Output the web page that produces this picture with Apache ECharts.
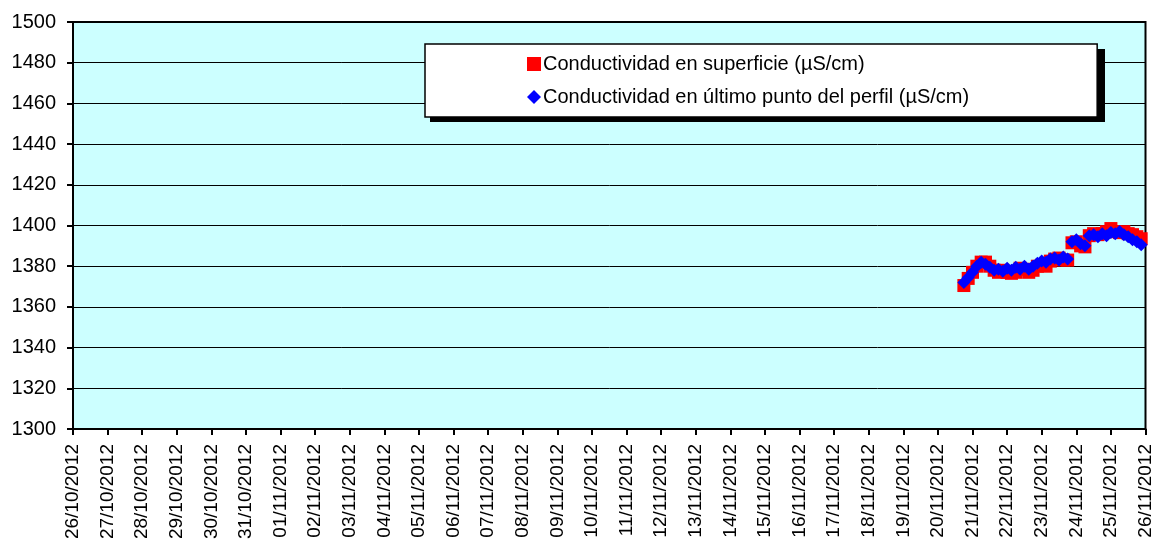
<!DOCTYPE html>
<html>
<head>
<meta charset="utf-8">
<script src="https://cdn.jsdelivr.net/npm/echarts@6/dist/echarts.min.js"></script>
<style>
  html, body { margin: 0; padding: 0; background: #fff; }
  #chart { width: 1155px; height: 551px; }
</style>
</head>
<body>
<div id="chart"></div>
<script>
// measurement times (every 3 h)
const times = [
  '2012-11-20 18:00', '2012-11-20 21:00',
  '2012-11-21 00:00', '2012-11-21 03:00', '2012-11-21 06:00', '2012-11-21 09:00',
  '2012-11-21 12:00', '2012-11-21 15:00', '2012-11-21 18:00', '2012-11-21 21:00',
  '2012-11-22 00:00', '2012-11-22 03:00', '2012-11-22 06:00', '2012-11-22 09:00',
  '2012-11-22 12:00', '2012-11-22 15:00', '2012-11-22 18:00', '2012-11-22 21:00',
  '2012-11-23 00:00', '2012-11-23 03:00', '2012-11-23 06:00', '2012-11-23 09:00',
  '2012-11-23 12:00', '2012-11-23 15:00', '2012-11-23 18:00', '2012-11-23 21:00',
  '2012-11-24 00:00', '2012-11-24 03:00', '2012-11-24 06:00', '2012-11-24 09:00',
  '2012-11-24 12:00', '2012-11-24 15:00', '2012-11-24 18:00', '2012-11-24 21:00',
  '2012-11-25 00:00', '2012-11-25 03:00', '2012-11-25 06:00', '2012-11-25 09:00',
  '2012-11-25 12:00', '2012-11-25 15:00', '2012-11-25 18:00', '2012-11-25 21:00'
]

const superficie = [
  1370.5, 1374, 1377, 1380, 1382, 1382, 1380, 1378, 1377, 1378,
  1377, 1376.5, 1377, 1379, 1378.5, 1377, 1378, 1380, 1380.5, 1380,
  1382.5, 1383.5, 1384, 1383, 1383, 1391.5, 1392, 1390, 1389.5, 1395,
  1396, 1395.5, 1396, 1397, 1398.5, 1397, 1396.5, 1397, 1396, 1395.5,
  1394.5, 1393.5
]

const ultimoPunto = [
  1372, 1374.5, 1377, 1380, 1382, 1381, 1379.5, 1378, 1378.5, 1377.5,
  1379, 1378, 1379.5, 1378.5, 1380, 1378.5, 1380, 1381.5, 1382.5, 1382,
  1383.5, 1384, 1383, 1384.5, 1383.5, 1392, 1393, 1391, 1390, 1395,
  1395.5, 1394.5, 1396, 1395, 1396.5, 1396, 1397, 1395.5, 1394.5, 1393,
  1392, 1390.5
]

const seriesNames = [
  'Conductividad en superficie (µS/cm)',
  'Conductividad en último punto del perfil (µS/cm)'
]

const xStart = '2012-10-26'
const xEnd = '2012-11-26'
const DAY = 86400000

function toUTC(s) {
  const [d, t] = s.split(' ')
  const [y, m, dd] = d.split('-').map(Number)
  const [hh, mm] = (t || '00:00').split(':').map(Number)
  return Date.UTC(y, m - 1, dd, hh, mm)
}

function pad(n) { return n < 10 ? '0' + n : '' + n }

const chart = echarts.init(document.getElementById('chart'))

const option = {
  animation: false,
  textStyle: { fontFamily: 'Liberation Sans, Arial, sans-serif' },
  grid: {
    left: 73,
    right: 8,
    top: 22,
    bottom: 122,
    show: true,
    backgroundColor: '#CCFFFF',
    borderColor: '#000',
    borderWidth: 2
  },
  // drop shadow behind the legend box
  graphic: [
    {
      type: 'rect',
      z: 1,
      silent: true,
      shape: { x: 430, y: 49, width: 675, height: 73 },
      style: { fill: '#000' }
    }
  ],
  legend: {
    orient: 'vertical',
    left: 425,
    top: 44,
    z: 3,
    align: 'left',
    itemWidth: 14,
    itemHeight: 14,
    itemGap: 13,
    padding: [10, 128, 10, 102],
    backgroundColor: '#fff',
    borderColor: '#000',
    borderWidth: 1.5,
    textStyle: { fontSize: 20, lineHeight: 20, color: '#000', padding: [0, 0, 0, -3] },
    data: [
      { name: seriesNames[0], icon: 'rect' },
      { name: seriesNames[1], icon: 'diamond' }
    ]
  },
  xAxis: {
    type: 'value',
    min: toUTC(xStart),
    max: toUTC(xEnd),
    interval: DAY,
    axisLine: { lineStyle: { color: '#000', width: 2 } },
    axisTick: { show: true, length: 6, lineStyle: { color: '#000', width: 2 } },
    splitLine: { show: false },
    axisLabel: {
      rotate: 90,
      fontSize: 19,
      color: '#000',
      margin: 15,
      formatter: v => {
        const d = new Date(v)
        return pad(d.getUTCDate()) + '/' + pad(d.getUTCMonth() + 1) + '/' + d.getUTCFullYear()
      }
    }
  },
  yAxis: {
    type: 'value',
    min: 1300,
    max: 1500,
    interval: 20,
    axisLine: { show: true, lineStyle: { color: '#000', width: 2 } },
    axisTick: { show: true, length: 6, lineStyle: { color: '#000', width: 2 } },
    splitLine: { show: true, lineStyle: { color: '#000', width: 1 } },
    axisLabel: { fontSize: 20, color: '#000', margin: 17, formatter: v => String(v) }
  },
  series: [
    {
      name: seriesNames[0],
      type: 'line',
      lineStyle: { width: 0, opacity: 0 },
      symbol: 'rect',
      symbolSize: 13,
      itemStyle: { color: '#FF0000' },
      data: times.map((t, i) => [toUTC(t), superficie[i]])
    },
    {
      name: seriesNames[1],
      type: 'line',
      lineStyle: { width: 0, opacity: 0 },
      symbol: 'diamond',
      symbolSize: 13,
      itemStyle: { color: '#0000FF' },
      data: times.map((t, i) => [toUTC(t), ultimoPunto[i]])
    }
  ]
}

chart.setOption(option)
</script>
</body>
</html>
